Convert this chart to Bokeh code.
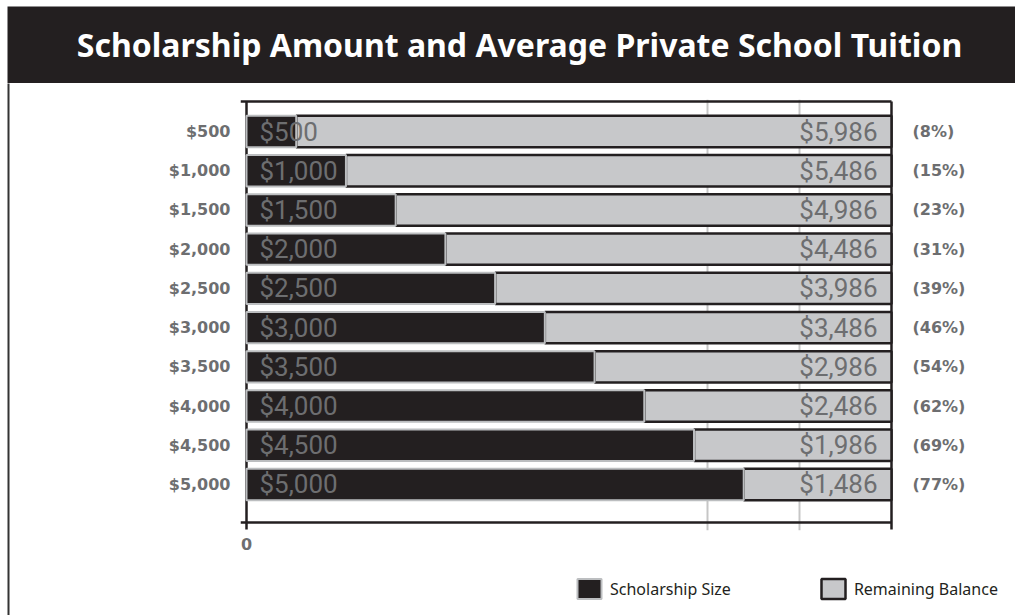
from bokeh.plotting import figure
from bokeh.models import Range1d, FixedTicker, Legend, LegendItem, ColumnDataSource, LinearAxis
from bokeh.layouts import column, row
from bokeh.core.properties import value
from bokeh.embed import file_html
from bokeh.resources import INLINE

# ---------------- data ----------------
scholarship = [500, 1000, 1500, 2000, 2500, 3000, 3500, 4000, 4500, 5000]
remaining = [5986, 5486, 4986, 4486, 3986, 3486, 2986, 2486, 1986, 1486]
category_labels = ["$500", "$1,000", "$1,500", "$2,000", "$2,500",
                   "$3,000", "$3,500", "$4,000", "$4,500", "$5,000"]
percent_labels = ["(8%)", "(15%)", "(23%)", "(31%)", "(39%)",
                  "(46%)", "(54%)", "(62%)", "(69%)", "(77%)"]
title_text = "Scholarship Amount and Average Private School Tuition"
legend_labels = ["Scholarship Size", "Remaining Balance"]

# ---------------- style ----------------
DARK = "#231f20"
GRAY = "#c7c8ca"
LIGHT_EDGE = "#bcbec0"
TEXT_GRAY = "#6d6e70"

n = len(scholarship)
rows = list(range(n))
total = [s + r for s, r in zip(scholarship, remaining)]
TOTAL = max(total)
PX = TOTAL / 645.0      # data units per pixel (x)
ROW = 39.2              # pixels per row (y)

src = ColumnDataSource(dict(
    row=rows, sch=scholarship, rem=remaining, total=total,
    sch_lbl=[f"${v:,}" for v in scholarship],
    rem_lbl=[f"${v:,}" for v in remaining],
))

dark_style = dict(fill_color=DARK, line_color=LIGHT_EDGE, line_width=2)
gray_style = dict(fill_color=GRAY, line_color=DARK, line_width=2.5)

# ---------------- title bar ----------------
t = figure(width=1015, height=83, output_backend="svg", toolbar_location=None,
           x_range=Range1d(0, 1), y_range=Range1d(0, 1),
           x_axis_type=None, y_axis_type=None,
           min_border_left=7, min_border_right=0, min_border_top=6, min_border_bottom=0,
           background_fill_color=DARK, border_fill_color="white", outline_line_color=None)
t.grid.visible = False
t.frame_align = False
t.text(x=[0.5], y=[0.5], text=[title_text], x_offset=8, y_offset=-1,
       text_align="center", text_baseline="middle",
       text_font=value("Noto Sans"), text_font_style="bold",
       text_font_size="32px", text_color="white")

# ---------------- left border strip ----------------
s = figure(width=10, height=532, output_backend="svg", toolbar_location=None,
           x_range=Range1d(0, 1), y_range=Range1d(0, 1),
           x_axis_type=None, y_axis_type=None,
           min_border_left=7, min_border_right=1, min_border_top=0, min_border_bottom=0,
           background_fill_color="#333333", border_fill_color="white", outline_line_color=None)
s.grid.visible = False
s.frame_align = False

# ---------------- main chart ----------------
p = figure(width=1005, height=477, output_backend="svg", toolbar_location=None,
           x_range=Range1d(-6 * PX, TOTAL + 2 * PX),
           y_range=Range1d(9 + 46 / ROW, -32 / ROW),
           min_border_left=230, min_border_right=122, min_border_top=16, min_border_bottom=30,
           background_fill_color="white", border_fill_color="white", outline_line_color=None)
p.frame_align = False

p.ygrid.visible = False
p.xgrid.ticker = FixedTicker(ticks=[TOTAL * 5 / 7, TOTAL * 6 / 7])
p.xgrid.grid_line_color = "#c6c6c6"
p.xgrid.grid_line_width = 2

def style_axis(ax, standoff):
    ax.axis_line_color = None
    ax.major_tick_line_color = None
    ax.minor_tick_line_color = None
    ax.major_tick_out = 0
    ax.major_tick_in = 0
    ax.minor_tick_out = 0
    ax.minor_tick_in = 0
    ax.major_label_standoff = standoff
    ax.major_label_text_font = "DejaVu Sans"
    ax.major_label_text_font_style = "bold"
    ax.major_label_text_font_size = "16px"
    ax.major_label_text_color = TEXT_GRAY

p.yaxis.ticker = FixedTicker(ticks=rows)
p.yaxis.major_label_overrides = {i: lbl for i, lbl in zip(rows, category_labels)}
style_axis(p.yaxis[0], 10)

ra = LinearAxis(ticker=FixedTicker(ticks=rows),
                major_label_overrides={i: lbl for i, lbl in zip(rows, percent_labels)})
style_axis(ra, 19)
p.add_layout(ra, "right")

p.xaxis.ticker = FixedTicker(ticks=[0])
style_axis(p.xaxis[0], 7)

# frame lines
top_y = -30 / ROW
bot_y = 9 + 38 / ROW
vbot = 9 + 45 / ROW
p.segment(x0=[-6 * PX, -6 * PX], y0=[top_y, bot_y], x1=[TOTAL, TOTAL], y1=[top_y, bot_y],
          line_color=DARK, line_width=2.5)
p.segment(x0=[0, TOTAL], y0=[top_y, top_y], x1=[0, TOTAL], y1=[vbot, vbot],
          line_color=DARK, line_width=2.5)

# bars
gray_r = p.hbar(y="row", left="sch", right="total", height=0.8, source=src, **gray_style)
dark_r = p.hbar(y="row", left=0, right="sch", height=0.8, source=src, **dark_style)

# in-bar labels
p.text(x=0, y="row", text="sch_lbl", source=src, x_offset=13,
       text_align="left", text_baseline="middle",
       text_font=value("Roboto"), text_font_size="26px", text_color=TEXT_GRAY)
p.text(x="total", y="row", text="rem_lbl", source=src, x_offset=-14,
       text_align="right", text_baseline="middle",
       text_font=value("Roboto"), text_font_size="26px", text_color=TEXT_GRAY)

# ---------------- legend strip ----------------
# same bar styles; the renderers themselves are hidden, only the legend shows
lg = figure(width=1005, height=55, output_backend="svg", toolbar_location=None,
            x_range=Range1d(0, 1), y_range=Range1d(-20, -19),
            x_axis_type=None, y_axis_type=None,
            min_border_left=0, min_border_right=0, min_border_top=0, min_border_bottom=0,
            background_fill_color="white", border_fill_color="white", outline_line_color=None)
lg.grid.visible = False
lg.frame_align = False
lg_dark = lg.hbar(y="row", left=0, right="sch", height=0.8, source=src, **dark_style)
lg_gray = lg.hbar(y="row", left="sch", right="total", height=0.8, source=src, **gray_style)
lg_dark.visible = False
lg_gray.visible = False

legend = Legend(items=[LegendItem(label=legend_labels[0], renderers=[lg_dark]),
                       LegendItem(label=legend_labels[1], renderers=[lg_gray])],
                orientation="horizontal", location=(564, 14),
                glyph_width=30, glyph_height=25, label_standoff=6, spacing=87,
                padding=0, margin=0, border_line_color=None, background_fill_alpha=0,
                inactive_fill_alpha=0,
                label_text_font="Noto Sans", label_text_font_size="16px",
                label_text_color=DARK)
lg.add_layout(legend)

layout = column(t, row(s, column(p, lg)))
open("out.html", "w").write(file_html(layout, INLINE))
